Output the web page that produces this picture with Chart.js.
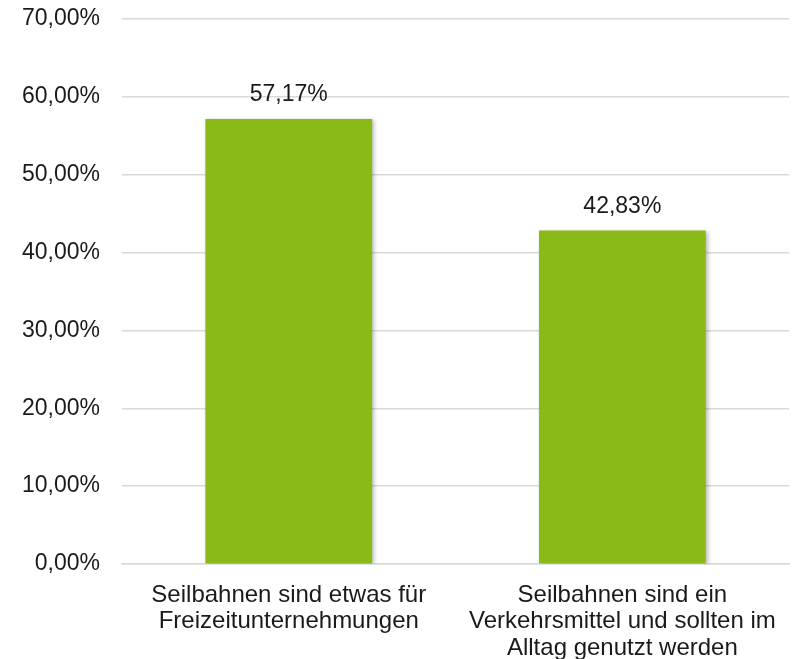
<!DOCTYPE html>
<html>
<head>
<meta charset="utf-8">
<script src="https://cdn.jsdelivr.net/npm/chart.js@4"></script>
<style>
  html, body { margin: 0; padding: 0; background: #fff; }
  #chart { display: block; }
</style>
</head>
<body>
<canvas id="chart" width="794" height="659"></canvas>
<script>
const categories = [
  ["Seilbahnen sind etwas für", "Freizeitunternehmungen"],
  ["Seilbahnen sind ein", "Verkehrsmittel und sollten im", "Alltag genutzt werden"]
];
const shares = [57.17, 42.83];
const yTicks = [0, 10, 20, 30, 40, 50, 60, 70];

function fmtPercent(v) {
  return v.toFixed(2).replace(".", ",") + "%";
}

// Werte über den Balken
const valueLabels = {
  id: "valueLabels",
  afterDatasetsDraw(chart) {
    const ctx = chart.ctx;
    const meta = chart.getDatasetMeta(0);
    ctx.save();
    ctx.font = "23px 'Liberation Sans', Arial, sans-serif";
    ctx.fillStyle = "#1a1a1a";
    ctx.textAlign = "center";
    ctx.textBaseline = "middle";
    meta.data.forEach((bar, i) => {
      ctx.fillText(fmtPercent(shares[i]), bar.x, bar.y - 24);
    });
    ctx.restore();
  }
};

// leichter Schatten unter den Balken
const barShadow = {
  id: "barShadow",
  beforeDatasetsDraw(chart) {
    const ctx = chart.ctx;
    ctx.save();
    ctx.shadowColor = "rgba(0,0,0,0.28)";
    ctx.shadowBlur = 4;
    ctx.shadowOffsetX = 2;
    ctx.shadowOffsetY = 1;
  },
  afterDatasetsDraw(chart) {
    chart.ctx.restore();
  }
};

// Oberkante der Zeichenfläche festlegen (70 % Linie bei y = 19)
const pinTop = {
  id: "pinTop",
  afterLayout(chart) {
    const area = chart.chartArea;
    const y = chart.scales.y;
    area.top = 19;
    area.height = area.bottom - area.top;
    y.top = 19;
    y.height = y.bottom - y.top;
    y.configure();
  }
};

Chart.defaults.font.family = "'Liberation Sans', Arial, sans-serif";
Chart.defaults.font.size = 23;
Chart.defaults.color = "#1a1a1a";

new Chart(document.getElementById("chart"), {
  type: "bar",
  data: {
    labels: categories,
    datasets: [{
      data: shares,
      backgroundColor: "#8aba18",
      barPercentage: 0.5,
      categoryPercentage: 1.0
    }]
  },
  options: {
    responsive: false,
    animation: false,
    layout: { autoPadding: false, padding: { top: 3, right: 1, left: 0, bottom: 0 } },
    plugins: {
      legend: { display: false },
      tooltip: { enabled: false }
    },
    scales: {
      x: {
        grid: { display: false, drawTicks: false },
        border: { color: "#d9d9d9", width: 1.5 },
        ticks: { padding: 18, font: { size: 24, lineHeight: 1.1 }, maxRotation: 0 },
        afterFit(scale) { scale.height = 95; }
      },
      y: {
        min: 0,
        max: 70,
        afterBuildTicks(scale) {
          scale.ticks = yTicks.map(v => ({ value: v }));
        },
        grid: { color: "#d9d9d9", lineWidth: 1.5, drawTicks: false },
        border: { display: false },
        ticks: {
          padding: 22,
          callback: (v) => fmtPercent(v)
        },
        afterFit(scale) { scale.width = 122; }
      }
    }
  },
  plugins: [pinTop, barShadow, valueLabels]
});
</script>
</body>
</html>
